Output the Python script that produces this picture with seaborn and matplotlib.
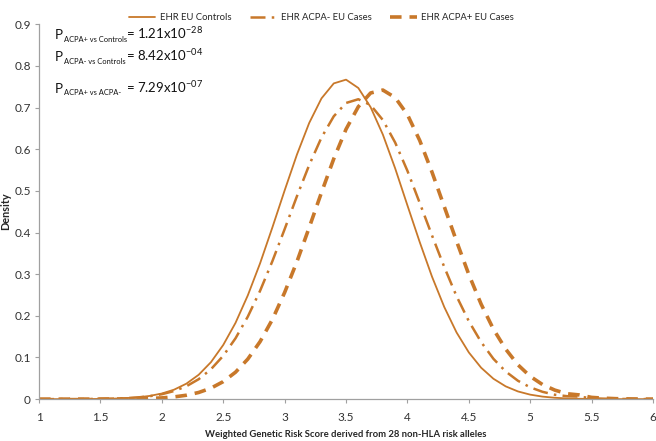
import pandas as pd
import seaborn as sns
import matplotlib.pyplot as plt

# values, x = 1.0 .. 6.0 step 0.1
score = [round(1.0 + 0.1 * i, 1) for i in range(51)]

controls = [0, 0, 0, 0, 0.0002,
            0.0005, 0.0011, 0.0022, 0.0041, 0.0076,
            0.0134, 0.0227, 0.0371, 0.0584, 0.0887, 0.130, 0.183, 0.249, 0.326, 0.412,
            0.501, 0.587, 0.663, 0.722, 0.758, 0.767, 0.747, 0.701, 0.635, 0.554,
            0.465, 0.377, 0.294, 0.221, 0.160, 0.112, 0.0754, 0.0489, 0.0306, 0.0184,
            0.0107, 0.0060, 0.0032, 0.0016, 0.0008, 0.0003, 0.0001, 0, 0, 0,
            0]
acpa_neg = [0, 0, 0.0001, 0.0001, 0.0003,
            0.0006, 0.0011, 0.0021, 0.0039, 0.0069,
            0.0117, 0.0194, 0.0309, 0.0478, 0.0717, 0.104, 0.146, 0.198, 0.260, 0.331,
            0.408, 0.487, 0.562, 0.628, 0.679, 0.711, 0.720, 0.706, 0.670, 0.616,
            0.548, 0.471, 0.393, 0.317, 0.247, 0.187, 0.137, 0.0968, 0.0663, 0.0440,
            0.0282, 0.0175, 0.0105, 0.0070, 0.0060, 0.0019, 0.0010, 0.0005, 0.0002, 0.0001,
            0]
acpa_pos = [0, 0, 0, 0, 0.0001,
            0.0001, 0.0002, 0.0004, 0.0008, 0.0015,
            0.0029, 0.0053, 0.0093, 0.0159, 0.0263, 0.042, 0.0646, 0.0961, 0.138, 0.191,
            0.256, 0.330, 0.412, 0.496, 0.577, 0.648, 0.702, 0.735, 0.742, 0.724,
            0.683, 0.621, 0.545, 0.462, 0.379, 0.299, 0.228, 0.168, 0.120, 0.0823,
            0.0546, 0.0349, 0.0216, 0.0129, 0.0100, 0.0041, 0.0022, 0.0010, 0.0005, 0.0002,
            0.0001]

xticks = [1, 1.5, 2, 2.5, 3, 3.5, 4, 4.5, 5, 5.5, 6]
yticks = [0, 0.1, 0.2, 0.3, 0.4, 0.5, 0.6, 0.7, 0.8, 0.9]

# p-value annotations: subscript, mantissa, exponent
p_subs = ["ACPA+ vs Controls", "ACPA- vs Controls", "ACPA+ vs ACPA-"]
p_vals = ["1.21x10", "8.42x10", "7.29x10"]
p_exps = ["-28", "-04", "-07"]
p_base = [0.864, 0.811, 0.736]

sns.set_theme(style="white")
plt.rcParams['font.family'] = ['Lato', 'DejaVu Sans']
plt.rcParams['mathtext.fontset'] = 'custom'
plt.rcParams['mathtext.rm'] = 'Lato'
plt.rcParams['mathtext.it'] = 'Lato'

col = "#C8782A"
txt = "#111111"

fig = plt.figure(figsize=(6.56, 4.41), dpi=100)
ax = fig.add_axes([0.0595, 0.095, 0.936, 0.850])

sns.lineplot(x=score, y=controls, ax=ax, color=col, lw=1.3, label="EHR EU Controls")
sns.lineplot(x=score, y=acpa_neg, ax=ax, color=col, lw=1.8, dashes=(6, 2.5, 1, 2.5),
             label="EHR ACPA- EU Cases")
sns.lineplot(x=score, y=acpa_pos, ax=ax, color=col, lw=2.6, dashes=(3.2, 2.2),
             label="EHR ACPA+ EU Cases")

ax.set_xlim(1, 6)
ax.set_ylim(0, 0.9)
ax.set_xticks(xticks)
ax.set_xticklabels([f"{t:g}" for t in xticks])
ax.set_yticks(yticks)
ax.set_yticklabels([f"{t:g}" for t in yticks])
ax.tick_params(axis="both", labelsize=8.5, colors="#333333", length=3, width=0.8,
               color="#A0A0A0", direction="out", left=True, bottom=True)
ax.tick_params(axis="x", pad=6)
ax.tick_params(axis="y", pad=3)
for s in ["top", "right"]:
    ax.spines[s].set_visible(False)
for s in ["left", "bottom"]:
    ax.spines[s].set_color("#A0A0A0")
    ax.spines[s].set_linewidth(0.9)

ax.set_xlabel("Weighted Genetic Risk Score derived from 28 non-HLA risk alleles",
              fontsize=6.8, fontweight="bold", labelpad=5)
ax.set_ylabel("Density", fontsize=7.8, fontweight="bold", labelpad=2)

narrow = ["Liberation Sans Narrow", "Lato", "DejaVu Sans"]
for sub, val, ex, yb in zip(p_subs, p_vals, p_exps, p_base):
    ax.text(1.130, yb, "P", fontsize=9.5, va="baseline", color=txt)
    ax.text(1.200, yb - 0.006, sub, fontsize=5.4, va="baseline", color=txt, family=narrow)
    ax.text(1.705, yb, "= " + val + r"$^{\mathrm{" + ex + "}}$",
            fontsize=9.5, va="baseline", color=txt)

ax.legend_.remove()
handles, labels = ax.get_legend_handles_labels()
fig.legend(handles, labels, ncol=3, loc="upper center", bbox_to_anchor=(0.49, 0.99),
           frameon=False, fontsize=6.8, handlelength=2.8, handletextpad=0.45,
           columnspacing=2.0)

fig.savefig("out.png", dpi=100)
